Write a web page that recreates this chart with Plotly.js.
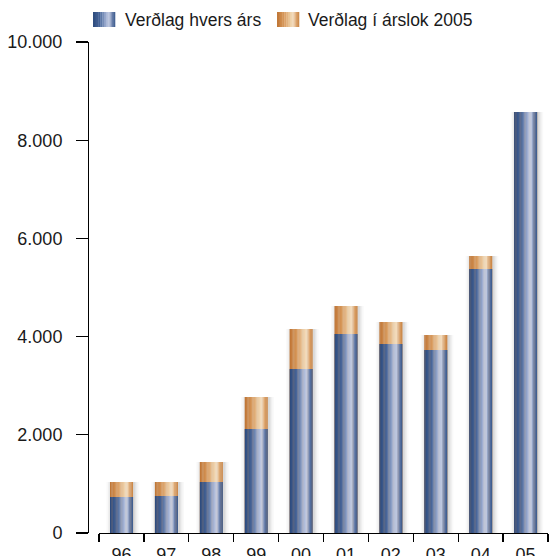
<!DOCTYPE html>
<html>
<head>
<meta charset="utf-8">
<script src="https://cdn.plot.ly/plotly-3.0.1.min.js"></script>
<style>html,body{margin:0;padding:0;background:#fff;}#chart{width:550px;height:556px;}</style>
</head>
<body>
<div id="chart"></div>
<script>
// ---- DATA ----
const categories = ['96','97','98','99','00','01','02','03','04','05'];
const nominal   = [733, 754, 1039, 2118, 3340, 4053, 3849, 3727, 5377, 8574]; // Verðlag hvers árs
const real2005  = [1039, 1039, 1446, 2770, 4155, 4623, 4297, 4033, 5642, 8574]; // Verðlag í árslok 2005
const seriesNames = ['Verðlag hvers árs', 'Verðlag í árslok 2005'];
const yTickVals = [0, 2000, 4000, 6000, 8000, 10000];

// ---- STYLE ----
const W = 0.51;        // bar width (category units)
const N = 18;          // gradient stripes per bar
const blueStops = [[0,[44,74,124]],[0.3,[70,100,152]],[0.62,[170,184,216]],[0.74,[196,204,226]],[0.88,[96,120,166]],[1,[56,88,138]]];
const orangeStops = [[0,[190,116,52]],[0.3,[214,150,88]],[0.62,[238,208,168]],[0.74,[244,222,194]],[0.88,[218,160,102]],[1,[200,130,66]]];
function grad(stops, t){
  for(let i=1;i<stops.length;i++){
    if(t<=stops[i][0]){
      const a=stops[i-1], b=stops[i];
      const f=(t-a[0])/(b[0]-a[0]);
      const c=a[1].map((v,k)=>Math.round(v+(b[1][k]-v)*f));
      return 'rgb('+c.join(',')+')';
    }
  }
  return 'rgb('+stops[stops.length-1][1].join(',')+')';
}

const traces = [];
// soft shadow (layered, centred slightly to the right)
[[0.22,0.025],[0.15,0.035],[0.09,0.045],[0.04,0.05]].forEach(([extra,op])=>{
  traces.push({type:'bar', x:categories, y:real2005, offset:-(W+extra)/2+0.03, width:W+extra,
    marker:{color:'rgba(0,0,0,'+op+')', line:{width:0}}, showlegend:false, hoverinfo:'skip'});
});
function stripes(values, stops, name){
  for(let i=0;i<N;i++){
    const t=(i+0.5)/N;
    traces.push({type:'bar', name:name, x:categories, y:values,
      offset:-W/2+i*W/N, width:W/N+0.004,
      marker:{color:grad(stops,t), line:{width:0}},
      showlegend:false, hoverinfo: i===0?'y+name':'skip'});
  }
}
stripes(real2005, orangeStops, seriesNames[1]);
stripes(nominal, blueStops, seriesNames[0]);

// ---- LAYOUT ----
const ML=88, MR=0, MT=42, MB=23, WIDTH=550, HEIGHT=556;
const PW=WIDTH-ML-MR, PH=HEIGHT-MT-MB;
const px2x = px => (px-ML)/PW;
const py2y = py => (HEIGHT-MB-py)/PH;

const shapes=[], annotations=[];
function legendItem(x0, stops, label, textX){
  const sw=22, y0=12, y1=27, n=12;
  for(let i=0;i<n;i++){
    shapes.push({type:'rect', xref:'paper', yref:'paper',
      x0:px2x(x0+i*sw/n), x1:px2x(x0+(i+1)*sw/n+0.3), y0:py2y(y1), y1:py2y(y0),
      fillcolor:grad(stops,(i+0.5)/n), line:{width:0}, layer:'above'});
  }
  annotations.push({xref:'paper', yref:'paper', x:px2x(textX), y:py2y(20),
    xanchor:'left', yanchor:'middle', showarrow:false, text:label,
    font:{size:17.5, color:'#1a1a1a', family:'"Liberation Sans", Arial, Helvetica, sans-serif'}, borderpad:0});
}
legendItem(93, blueStops, seriesNames[0], 124);
legendItem(277, orangeStops, seriesNames[1], 307);

const layout = {
  width:WIDTH, height:HEIGHT,
  margin:{l:ML, r:MR, t:MT, b:MB, pad:0},
  paper_bgcolor:'#fff', plot_bgcolor:'#fff',
  barmode:'overlay',
  separators:',.',
  showlegend:false,
  font:{family:'"Liberation Sans", Arial, Helvetica, sans-serif', size:18, color:'#1a1a1a'},
  xaxis:{type:'category', domain:[px2x(99), px2x(548)], anchor:'y',
    showline:true, linecolor:'#000', linewidth:1.3,
    ticks:'outside', tickson:'boundaries', ticklen:8, tickwidth:1.3, tickcolor:'#000',
    showgrid:false, zeroline:false, fixedrange:true, ticklabelstandoff:5,
    tickfont:{size:18}},
  yaxis:{range:[0,10000], anchor:'free', position:0,
    tickvals:yTickVals, tickformat:',d',
    showline:true, linecolor:'#000', linewidth:1.3,
    ticks:'outside', ticklen:12, tickwidth:1.3, tickcolor:'#000',
    showgrid:false, zeroline:false, ticklabelstandoff:10,
    tickfont:{size:18}},
  shapes:shapes, annotations:annotations
};

Plotly.newPlot('chart', traces, layout, {staticPlot:true, displayModeBar:false});
</script>
</body>
</html>
